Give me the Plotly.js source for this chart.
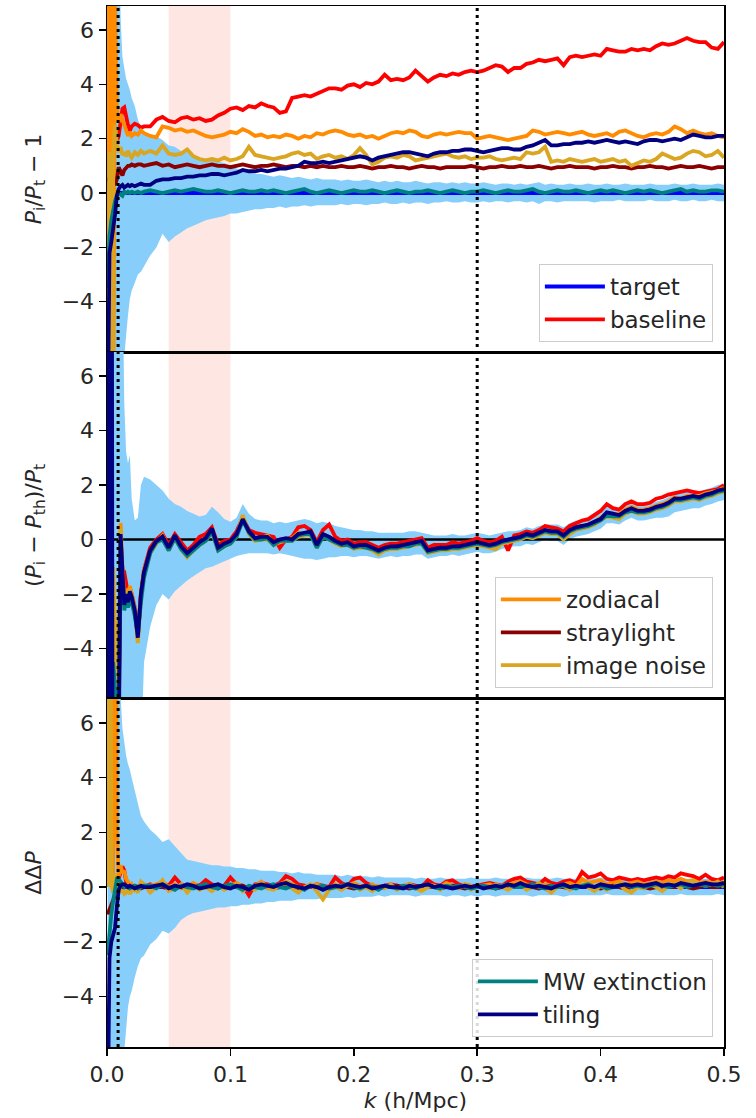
<!DOCTYPE html>
<html>
<head>
<meta charset="utf-8">
<script src="https://cdn.plot.ly/plotly-3.0.1.min.js"></script>
<style>html,body{margin:0;padding:0;background:#fff}#chart{width:756px;height:1118px}</style>
</head>
<body>
<div id="chart"></div>
<script>
// k grid (h/Mpc)
const K = [0.0005,0.002,0.0035,0.005,0.0065,0.008,0.0095,0.011,0.0125,0.014,0.0155,0.017,0.0185,0.02,0.0225,0.025,0.0275,0.03,
0.035,0.04,0.045,0.05,0.055,0.06,0.065,0.07,0.075,0.08,
0.085,0.09,0.095,0.1,0.105,0.11,0.115,0.12,0.125,0.13,
0.135,0.14,0.145,0.15,0.155,0.16,0.165,0.17,0.175,0.18,
0.185,0.19,0.195,0.2,0.205,0.21,0.215,0.22,0.225,0.23,
0.235,0.24,0.245,0.25,0.255,0.26,0.265,0.27,0.275,0.28,
0.285,0.29,0.295,0.3,0.305,0.31,0.315,0.32,0.325,0.33,
0.335,0.34,0.345,0.35,0.355,0.36,0.365,0.37,0.375,0.38,
0.385,0.39,0.395,0.4,0.405,0.41,0.415,0.42,0.425,0.43,
0.435,0.44,0.445,0.45,0.455,0.46,0.465,0.47,0.475,0.48,
0.485,0.49,0.495,0.5];

const kTargetLine = [0.008, 0.5];
const targetZero = [0, 0];
const kZeroLine = [0, 0.5];
const zeroLine = [0, 0];

// ---------- top panel: P_i/P_t - 1 ----------
const topBaseline = [2.0,2.0,2.0,2.0,2.0,1.9,2.1,2.6,3.1,3.15,2.8,2.5,2.3,2.45,2.55,2.5,2.4,2.45,
2.45,2.7,2.8,2.65,2.6,2.75,2.8,2.7,2.75,2.65,
2.7,2.85,2.95,3.1,3.15,3.05,3.2,3.15,3.3,3.2,
3.15,2.95,3.0,3.5,3.55,3.6,3.55,3.65,3.75,3.85,
3.85,3.8,3.95,4.0,3.9,4.05,4.0,4.1,4.35,4.15,
4.2,4.15,4.25,4.5,4.3,4.1,4.25,4.35,4.3,4.4,
4.35,4.45,4.5,4.45,4.5,4.6,4.7,4.65,4.45,4.6,
4.6,4.75,4.8,4.9,4.85,4.9,4.95,4.7,5.0,5.05,
5.0,5.05,5.1,5.05,5.3,5.25,5.2,5.2,5.3,5.25,
5.3,5.25,5.4,5.5,5.45,5.5,5.6,5.7,5.6,5.55,
5.55,5.35,5.3,5.55];
const topZodiacal = [60,-30,45,-10,7,3.2,2.6,2.9,2.7,2.5,2.2,2.1,2.25,2.1,2.2,2.15,2.3,2.2,
2.1,2.05,2.45,2.4,2.3,2.35,2.25,2.3,2.2,2.1,
2.05,2.1,2.15,2.25,2.2,2.35,2.25,2.1,2.15,2.05,
2.1,2.05,2.15,2.1,2.0,2.1,2.05,2.2,2.15,2.25,
2.3,2.25,2.15,2.1,2.15,2.05,2.1,2.0,2.1,2.2,
2.25,2.2,2.3,2.25,2.1,2.05,2.15,2.2,2.15,2.2,
2.25,2.2,2.2,2.0,2.05,2.1,2.05,2.0,1.95,2.0,
2.05,2.1,2.3,2.25,2.15,2.2,2.25,2.2,2.15,2.2,
2.25,2.15,2.1,2.15,2.2,2.1,2.25,2.3,2.2,2.1,
2.05,2.15,2.2,2.15,2.25,2.45,2.35,2.2,2.3,2.2,
2.15,2.2,2.1,2.05];
const topStraylight = [0.5,0.5,0.5,0.4,0.3,0.5,0.95,0.8,0.65,0.85,0.95,1.0,1.0,1.05,1.0,1.05,1.05,1.0,
1.05,1.1,1.0,1.05,0.95,1.0,1.05,1.0,0.95,1.0,
1.05,1.0,1.0,0.95,1.0,1.05,1.0,0.95,1.0,1.0,
1.05,1.0,0.95,1.0,1.0,0.95,1.0,0.95,1.0,0.95,
0.95,1.0,0.95,0.95,1.0,0.95,0.9,0.95,0.95,1.0,
0.95,0.95,0.9,0.95,1.0,0.95,0.95,0.9,0.95,0.95,
0.95,0.95,1.0,0.95,0.9,0.95,0.95,1.0,0.95,0.95,
1.0,0.95,0.95,1.0,0.95,0.9,0.95,0.95,1.0,0.95,
0.95,0.95,0.9,0.95,0.95,1.0,0.95,0.95,0.9,0.95,
0.95,1.0,0.95,0.95,0.9,0.95,1.0,0.95,0.95,1.0,
0.95,0.9,0.95,0.95];
const topImageNoise = [-40,1.5,-40,1.6,2.5,1.8,1.5,1.7,1.4,1.5,1.35,1.55,1.4,1.3,1.5,1.4,1.55,1.45,
1.55,1.45,1.75,1.45,1.4,1.45,1.6,1.35,1.25,1.2,
1.25,1.2,1.3,1.2,1.25,1.35,1.7,1.4,1.35,1.3,
1.25,1.3,1.35,1.45,1.5,1.4,1.45,1.25,1.35,1.4,
1.3,1.35,1.25,1.4,1.65,1.4,1.05,1.15,1.3,1.35,
1.3,1.4,1.35,1.2,1.25,1.3,1.35,1.4,1.45,1.35,
1.3,1.35,1.25,1.3,1.3,1.35,1.25,1.2,1.25,1.3,
1.25,1.5,1.45,1.5,1.7,1.15,1.2,1.15,1.25,1.2,
1.15,1.2,1.25,1.15,1.2,1.25,1.15,1.2,1.0,1.1,
1.2,1.15,1.25,1.45,1.35,1.25,1.3,1.45,1.55,1.5,
1.35,1.4,1.55,1.3];
const topMWExt = [-3.5,-1.6,-1.0,-0.6,-0.3,-0.1,0.0,-0.05,-0.1,0.05,0.0,0.05,0.0,0.05,0.0,0.05,0.0,0.05,
0.1,0.05,0.0,0.05,0.1,0.05,0.1,0.15,0.1,0.05,
0.05,0.1,0.05,0.0,0.05,0.1,0.05,0.05,0.1,0.05,
0.1,0.05,0.0,0.05,0.1,0.15,0.05,0.0,0.05,0.1,
0.05,0.0,0.05,0.1,0.05,0.05,0.1,0.05,0.0,0.05,
0.1,0.05,0.0,0.05,0.05,0.1,0.05,0.0,0.05,0.1,
0.05,0.0,0.05,0.05,0.1,0.05,0.0,0.05,0.1,0.05,
0.05,0.1,0.15,0.05,0.0,0.05,0.1,0.05,0.05,0.1,
0.05,0.0,0.05,0.1,0.05,0.1,0.05,0.0,0.05,0.1,
0.05,0.1,0.05,0.0,0.05,0.1,0.15,0.05,0.1,0.05,
0.05,0.1,0.1,0.05];
const topTiling = [-9,-2.2,-1.8,-1.4,-0.8,-0.1,0.15,0.25,0.3,0.2,0.25,0.3,0.25,0.3,0.25,0.3,0.35,0.3,
0.3,0.45,0.5,0.5,0.55,0.55,0.6,0.6,0.65,0.65,
0.7,0.7,0.65,0.7,0.75,0.85,0.8,0.8,0.85,0.8,
0.85,0.9,0.9,0.95,1.0,1.15,1.1,1.1,1.15,1.1,
1.15,1.2,1.25,1.3,1.35,1.3,1.2,1.3,1.35,1.4,
1.45,1.5,1.5,1.45,1.4,1.35,1.45,1.5,1.5,1.55,
1.55,1.6,1.6,1.55,1.5,1.55,1.6,1.65,1.65,1.6,
1.6,1.7,1.75,1.85,1.95,1.75,1.75,1.8,1.8,1.85,
1.85,1.9,1.85,1.9,1.95,1.9,1.85,1.9,1.85,1.8,
1.9,1.95,1.95,1.9,1.95,2.0,1.95,2.05,2.15,2.1,
2.05,2.05,2.1,2.1];
const topBandHi = [30,30,30,30,30,25,12,6.5,5.0,4.6,4.2,4.0,3.8,3.5,3.2,2.7,2.4,2.2,
2.05,2.1,1.95,1.75,1.7,1.55,1.5,1.4,1.3,1.25,
1.2,1.15,1.1,1.0,0.9,0.8,0.75,0.7,0.7,0.65,
0.6,0.65,0.6,0.55,0.6,0.55,0.5,0.55,0.5,0.5,
0.5,0.45,0.5,0.45,0.45,0.5,0.45,0.4,0.45,0.4,
0.45,0.4,0.4,0.45,0.4,0.35,0.4,0.4,0.35,0.4,
0.35,0.4,0.35,0.35,0.4,0.35,0.3,0.35,0.35,0.3,
0.35,0.3,0.35,0.4,0.3,0.35,0.3,0.3,0.35,0.3,
0.3,0.35,0.3,0.3,0.35,0.3,0.3,0.35,0.3,0.3,
0.3,0.35,0.3,0.3,0.3,0.35,0.3,0.3,0.35,0.3,
0.3,0.3,0.35,0.3];
const topBandLo = [-30,-30,-30,-30,-30,-30,-25,-15,-8,-6,-5.1,-4.5,-3.9,-3.6,-3.3,-3.0,-2.9,-2.7,
-2.3,-2.0,-1.5,-1.8,-1.6,-1.45,-1.3,-1.2,-1.1,-1.0,
-0.95,-0.9,-0.85,-0.75,-0.75,-0.7,-0.65,-0.6,-0.6,-0.55,
-0.55,-0.5,-0.55,-0.5,-0.5,-0.45,-0.5,-0.45,-0.45,-0.45,
-0.45,-0.4,-0.45,-0.4,-0.4,-0.45,-0.4,-0.4,-0.35,-0.4,
-0.4,-0.35,-0.4,-0.35,-0.35,-0.4,-0.35,-0.35,-0.3,-0.35,
-0.35,-0.3,-0.35,-0.35,-0.3,-0.35,-0.3,-0.3,-0.35,-0.3,
-0.3,-0.35,-0.3,-0.4,-0.3,-0.3,-0.35,-0.3,-0.3,-0.3,
-0.3,-0.3,-0.35,-0.3,-0.3,-0.3,-0.25,-0.3,-0.3,-0.3,
-0.3,-0.25,-0.3,-0.3,-0.3,-0.25,-0.3,-0.3,-0.25,-0.3,
-0.3,-0.25,-0.3,-0.3];

// ---------- middle panel: (P_i - P_th)/P_t ----------
const midBaseline = [-9,3,-9,-4,-5,-8,-6,0.1,-1.2,-1.2,-1.6,-2.0,-1.8,-2.0,-2.5,-3.5,-2.0,-1.1,
-0.3,0.0,0.2,-0.2,0.2,-0.1,-0.4,-0.2,0.1,0.2,
0.45,-0.2,-0.05,0.0,0.3,0.8,0.35,0.25,0.2,0.15,
0.1,-0.3,0.0,0.1,0.45,0.5,0.35,-0.1,0.35,0.55,
0.1,-0.05,0.0,-0.15,-0.1,-0.1,-0.2,-0.3,-0.2,-0.15,
-0.15,-0.1,-0.05,0.0,0.05,-0.3,-0.2,-0.2,-0.2,-0.1,
-0.15,-0.1,-0.05,0.05,-0.05,-0.1,-0.05,0.1,-0.4,0.15,
0.2,0.3,0.25,0.35,0.5,0.45,0.4,0.3,0.5,0.6,
0.7,0.75,0.9,1.05,1.3,1.15,1.1,1.3,1.4,1.3,
1.3,1.35,1.5,1.55,1.65,1.7,1.75,1.8,1.75,1.7,
1.75,1.8,1.85,2.0];
const midZodiacal = [0.5,-8,0.6,-8,-3,-6,-4,0.6,-1.0,-2.2,-1.8,-2.1,-1.7,-2.0,-2.5,-3.7,-1.9,-1.1,
-0.45,-0.1,0.15,-0.35,0.1,-0.3,-0.55,-0.35,-0.15,0.0,
0.35,-0.35,-0.2,-0.1,0.15,0.85,0.25,0.0,0.05,0.15,
-0.15,-0.05,0.0,0.05,0.25,0.2,0.25,-0.25,0.15,0.05,
-0.1,-0.2,-0.15,-0.3,-0.25,-0.25,-0.35,-0.45,-0.35,-0.3,
-0.3,-0.25,-0.2,-0.15,-0.1,-0.45,-0.4,-0.35,-0.35,-0.3,
-0.3,-0.25,-0.2,-0.15,-0.2,-0.25,-0.2,-0.1,-0.05,0.0,
0.05,0.15,0.1,0.2,0.3,0.25,0.25,0.1,0.3,0.4,
0.5,0.55,0.65,0.8,0.95,0.9,0.95,1.1,1.2,1.1,
1.1,1.15,1.25,1.3,1.4,1.55,1.5,1.6,1.6,1.6,
1.7,1.75,1.8,1.9];
const midStraylight = [-9,5,-9,-6,-6,-8,-7,0.15,-1.3,-2.3,-2.0,-2.3,-1.9,-2.1,-2.6,-3.6,-2.0,-1.2,
-0.4,-0.1,0.1,-0.3,0.1,-0.25,-0.5,-0.3,-0.15,0.05,
0.4,-0.3,-0.15,-0.1,0.2,0.75,0.3,0.05,0.1,0.05,
-0.1,0.0,0.0,0.0,0.2,0.2,0.3,-0.2,0.2,0.1,
-0.05,-0.15,-0.15,-0.25,-0.2,-0.25,-0.3,-0.4,-0.3,-0.3,
-0.25,-0.2,-0.2,-0.1,-0.1,-0.4,-0.35,-0.3,-0.35,-0.25,
-0.25,-0.25,-0.15,-0.1,-0.15,-0.25,-0.15,-0.1,0.0,0.0,
0.1,0.15,0.15,0.25,0.3,0.3,0.25,0.15,0.3,0.45,
0.5,0.5,0.65,0.75,0.95,0.95,0.85,1.05,1.1,1.05,
1.05,1.1,1.15,1.25,1.3,1.5,1.45,1.55,1.55,1.55,
1.6,1.7,1.75,1.85];
const midImageNoise = [-8,0.5,-8,-1.0,-3.5,-7,-5,0.4,-1.2,-2.3,-1.9,-2.2,-1.8,-2.1,-2.6,-3.8,-2.1,-1.3,
-0.5,-0.15,0.05,-0.4,0.05,-0.35,-0.65,-0.4,-0.2,-0.05,
0.3,-0.4,-0.25,-0.15,0.1,0.9,0.2,-0.05,0.0,0.0,
-0.2,-0.1,-0.05,-0.05,0.1,0.15,0.2,-0.3,0.1,0.0,
-0.15,-0.25,-0.2,-0.35,-0.3,-0.3,-0.4,-0.55,-0.4,-0.35,
-0.35,-0.3,-0.25,-0.2,-0.15,-0.5,-0.45,-0.4,-0.4,-0.35,
-0.35,-0.3,-0.25,-0.2,-0.25,-0.3,-0.35,-0.15,-0.1,-0.05,
0.0,0.1,0.05,0.15,0.25,0.2,0.2,0.0,0.2,0.35,
0.4,0.45,0.55,0.7,0.85,0.8,0.75,0.95,1.05,0.95,
0.95,1.0,1.1,1.15,1.25,1.4,1.4,1.45,1.5,1.45,
1.55,1.6,1.7,1.75];
const midMWExt = [-9,-4,-5,-4.5,-5.5,-8,-6,0.0,-1.5,-2.6,-2.2,-2.5,-2.1,-2.3,-2.8,-3.5,-2.3,-1.4,
-0.5,-0.1,0.0,-0.4,0.05,-0.35,-0.6,-0.4,-0.2,-0.05,
0.3,-0.4,-0.25,-0.15,0.1,0.7,0.25,0.0,0.0,0.05,
-0.2,-0.05,-0.05,-0.05,0.15,0.2,0.2,-0.3,0.1,0.0,
-0.1,-0.2,-0.2,-0.3,-0.25,-0.3,-0.35,-0.45,-0.35,-0.3,
-0.3,-0.25,-0.25,-0.15,-0.15,-0.45,-0.4,-0.35,-0.35,-0.3,
-0.3,-0.25,-0.2,-0.15,-0.2,-0.25,-0.2,-0.1,-0.05,0.0,
0.05,0.15,0.1,0.2,0.3,0.25,0.25,0.1,0.3,0.4,
0.45,0.5,0.6,0.7,0.9,0.85,0.85,1.0,1.05,1.0,
1.0,1.05,1.15,1.2,1.3,1.45,1.45,1.5,1.55,1.5,
1.6,1.65,1.75,1.8];
const midTiling = [30,-30,30,-30,-10,-9,-8,0.2,-1.3,-2.4,-2.0,-2.3,-1.9,-2.1,-2.6,-3.6,-2.0,-1.2,
-0.4,-0.05,0.1,-0.3,0.15,-0.25,-0.5,-0.3,-0.1,0.05,
0.4,-0.3,-0.15,-0.05,0.2,0.75,0.3,0.05,0.1,0.1,
-0.1,0.0,0.05,0.0,0.2,0.25,0.3,-0.2,0.2,0.1,
-0.05,-0.15,-0.1,-0.25,-0.2,-0.2,-0.3,-0.4,-0.3,-0.25,
-0.25,-0.2,-0.15,-0.1,-0.05,-0.4,-0.35,-0.3,-0.3,-0.25,
-0.25,-0.2,-0.15,-0.1,-0.15,-0.2,-0.15,-0.05,0.0,0.05,
0.1,0.2,0.15,0.25,0.35,0.3,0.3,0.15,0.35,0.45,
0.5,0.55,0.65,0.75,1.0,0.95,0.9,1.05,1.15,1.05,
1.05,1.1,1.2,1.25,1.35,1.5,1.5,1.55,1.6,1.55,
1.65,1.7,1.8,1.85];
const midBandHi = [30,30,30,30,30,30,30,20,10,5,3.2,2.8,3.1,1.5,0.7,0.8,2.0,2.3,
2.2,2.0,1.8,1.5,1.3,1.2,1.05,0.95,0.85,0.9,
1.2,1.0,0.75,0.65,0.8,1.3,0.95,0.75,0.7,0.7,
0.6,0.65,0.6,0.65,0.7,0.75,0.7,0.6,0.65,0.6,
0.5,0.45,0.4,0.35,0.35,0.3,0.3,0.25,0.25,0.25,
0.25,0.25,0.3,0.3,0.25,0.2,0.15,0.15,0.15,0.2,
0.15,0.15,0.2,0.25,0.2,0.15,0.2,0.25,0.3,0.3,
0.35,0.45,0.4,0.5,0.55,0.55,0.55,0.45,0.6,0.7,
0.7,0.8,0.85,0.95,1.2,1.15,1.1,1.25,1.35,1.25,
1.25,1.3,1.4,1.45,1.55,1.7,1.7,1.75,1.8,1.75,
1.85,1.9,2.0,2.05];
const midBandLo = [-30,-30,-30,-30,-30,-30,-30,-30,-30,-30,-30,-30,-30,-30,-30,-30,-8,-4.5,
-3.2,-2.4,-2.0,-2.2,-1.9,-1.7,-1.5,-1.35,-1.2,-1.05,
-1.0,-0.9,-0.8,-0.7,-0.6,-0.55,-0.5,-0.5,-0.5,-0.5,
-0.55,-0.5,-0.55,-0.6,-0.65,-0.7,-0.7,-0.75,-0.7,-0.65,
-0.65,-0.6,-0.6,-0.65,-0.6,-0.6,-0.65,-0.7,-0.65,-0.6,
-0.65,-0.6,-0.6,-0.55,-0.55,-0.7,-0.65,-0.6,-0.6,-0.55,
-0.6,-0.55,-0.5,-0.45,-0.5,-0.5,-0.45,-0.35,-0.3,-0.25,
-0.25,-0.15,-0.2,-0.1,0.0,-0.05,-0.05,-0.2,0.0,0.1,
0.15,0.2,0.3,0.4,0.6,0.6,0.55,0.7,0.8,0.7,
0.7,0.75,0.8,0.8,0.85,1.0,1.05,1.1,1.15,1.15,
1.25,1.3,1.4,1.45];

// ---------- bottom panel: ΔΔP ----------
const botBaseline = [0.3,0.3,0.3,0.3,0.3,0.2,0.3,0.55,0.75,0.6,0.2,0.05,-0.15,-0.1,0.0,-0.1,0.05,0.0,
0.1,0.0,0.15,0.05,0.35,0.1,0.0,0.1,0.05,0.25,
0.1,0.0,0.05,0.35,0.1,0.05,-0.3,0.1,0.15,0.1,
0.05,0.15,0.4,0.3,0.1,0.05,0.0,0.1,0.05,0.0,
0.35,0.15,0.05,0.3,0.35,0.15,0.05,0.0,0.05,0.1,
0.05,0.0,0.1,0.05,0.0,0.25,0.1,0.05,0.2,0.25,
0.1,0.05,0.0,0.05,0.1,0.15,0.1,0.05,0.2,0.3,
0.35,0.2,0.15,0.1,0.3,0.15,0.1,0.2,0.25,0.15,
0.55,0.35,0.4,0.5,0.3,0.25,0.35,0.3,0.25,0.3,
0.25,0.3,0.35,0.3,0.4,0.35,0.5,0.45,0.4,0.3,
0.45,0.3,0.25,0.35];
const botZodiacal = [30,0.2,30,0.3,20,2,0.4,0.8,0.5,0.6,0.3,0.2,0.0,0.1,-0.1,0.0,0.15,0.05,
0.05,0.1,0.2,0.0,0.1,-0.05,0.05,0.15,0.0,0.05,
-0.05,0.1,0.0,0.05,0.15,0.0,-0.1,0.05,0.2,0.0,
0.0,0.1,0.2,0.1,0.0,-0.05,0.05,0.1,0.0,-0.05,
0.1,0.0,0.05,0.15,0.05,0.0,0.1,-0.05,0.0,0.05,
0.0,0.05,0.1,0.0,-0.05,0.1,0.05,0.0,0.15,0.05,
0.0,0.1,0.05,0.0,0.05,0.1,0.0,0.05,0.1,0.15,
0.2,0.1,0.05,0.0,0.1,0.05,0.0,0.1,0.15,0.05,
0.3,0.15,0.2,0.25,0.1,0.15,0.2,0.1,0.15,0.2,
0.1,0.15,0.2,0.15,0.25,0.2,0.3,0.2,0.25,0.15,
0.2,0.15,0.1,0.2];
const botStraylight = [-1.0,-0.8,-0.6,-0.5,-0.3,-0.2,0.0,-0.1,-0.05,0.0,0.05,0.0,-0.05,0.0,0.05,0.0,-0.05,0.0,
0.0,0.05,0.0,-0.05,0.05,0.0,-0.05,0.0,0.05,0.0,
0.0,-0.05,0.05,0.0,0.0,0.05,-0.05,0.0,0.05,0.0,
-0.05,0.0,0.05,0.0,-0.05,0.0,0.05,0.0,0.0,-0.05,
0.0,0.05,0.0,-0.05,0.0,0.05,0.0,-0.05,0.0,0.0,
0.05,0.0,-0.05,0.0,0.05,0.0,0.0,-0.05,0.0,0.05,
0.0,-0.05,0.0,0.05,0.0,0.0,-0.05,0.0,0.05,0.0,
0.0,0.05,0.0,-0.05,0.0,0.05,0.0,0.0,-0.05,0.0,
0.05,0.0,0.0,-0.05,0.0,0.05,0.0,-0.05,0.0,0.05,
0.0,-0.05,0.0,0.05,0.0,0.0,0.05,0.0,-0.05,0.0,
0.05,0.0,0.0,0.05];
const botImageNoise = [0.0,30,0.1,-0.2,0.5,-0.3,0.2,-0.2,-0.1,-0.25,-0.2,-0.1,-0.25,-0.15,-0.05,-0.2,0.2,0.1,
-0.2,0.0,0.25,-0.15,-0.05,0.1,-0.2,0.05,-0.1,0.0,
-0.15,0.05,-0.1,0.0,0.1,-0.15,0.0,-0.1,0.1,-0.05,
-0.1,0.05,0.15,-0.05,-0.2,0.0,0.1,-0.15,-0.45,-0.1,
0.0,-0.1,0.05,0.1,-0.1,0.0,-0.15,0.05,-0.05,0.1,
-0.1,0.0,0.1,-0.05,-0.15,0.0,0.05,-0.1,0.1,0.0,
-0.05,0.1,-0.1,0.0,0.05,-0.05,0.1,0.0,-0.1,0.05,
0.1,-0.1,0.0,0.15,-0.05,-0.2,0.0,0.05,-0.1,0.0,
0.1,0.0,-0.15,0.05,-0.1,0.0,0.1,-0.1,-0.2,0.0,
-0.05,0.1,0.0,-0.15,0.05,0.1,-0.05,0.15,0.25,0.1,
0.05,0.1,0.2,0.0];
const botMWExt = [-2.5,-1.5,-1.0,-0.5,-0.1,0.3,0.3,0.2,0.1,0.0,0.05,0.0,-0.05,0.0,0.05,-0.05,0.0,0.05,
0.05,-0.05,0.1,0.0,-0.1,0.05,0.0,-0.05,0.05,0.1,
0.0,-0.05,0.05,0.1,0.0,-0.1,0.05,0.0,-0.05,0.05,
0.1,0.0,-0.05,0.05,0.0,-0.1,0.05,0.0,0.05,-0.05,
0.0,0.05,0.1,0.0,-0.05,0.05,0.0,-0.1,0.05,0.0,
-0.05,0.05,0.0,-0.05,0.05,0.1,0.0,-0.05,0.05,0.0,
0.05,0.0,-0.05,0.0,0.05,0.0,-0.05,0.05,0.1,0.0,
0.0,0.05,0.1,0.0,-0.05,0.05,0.0,0.05,0.0,-0.05,
0.05,0.1,0.0,0.05,-0.05,0.0,0.05,0.1,0.0,0.05,
0.0,0.05,0.1,0.05,0.0,0.05,0.1,0.0,0.05,0.1,
0.05,0.1,0.05,0.1];
const botTiling = [-9,-2.6,-2.0,-1.8,-1.5,-0.7,-0.1,0.05,0.1,0.1,0.05,0.0,0.05,0.0,-0.05,0.0,0.05,0.0,
0.0,0.05,0.1,-0.05,0.05,0.0,0.1,0.05,-0.05,0.0,
0.05,0.1,0.0,-0.05,0.05,0.0,-0.1,0.05,0.1,0.05,
0.0,0.1,0.15,0.05,0.0,-0.05,0.05,0.0,-0.1,0.0,
0.05,0.0,0.1,0.05,0.0,0.05,-0.05,0.0,0.05,0.0,
0.0,-0.05,0.05,0.0,0.05,0.1,0.0,0.05,0.0,-0.05,
0.0,0.05,0.0,0.05,-0.05,0.0,0.05,0.0,0.1,0.05,
0.15,0.05,0.0,0.05,0.0,-0.05,0.05,0.1,0.0,0.05,
0.0,0.05,0.0,0.1,0.05,0.0,0.05,0.1,0.05,0.1,
0.05,0.1,0.15,0.05,0.1,0.05,0.15,0.1,0.05,0.1,
0.15,0.1,0.1,0.15];
const botBandHi = [30,30,30,30,30,30,15,7,5.8,5.2,4.8,4.5,4.3,4.0,3.5,3.0,2.6,2.4,
2.1,1.9,1.65,1.75,1.5,1.25,1.0,0.95,0.9,0.85,
0.8,0.8,0.75,0.75,0.7,0.7,0.65,0.65,0.6,0.6,
0.6,0.55,0.55,0.5,0.55,0.5,0.5,0.45,0.45,0.45,
0.45,0.4,0.45,0.4,0.4,0.4,0.35,0.4,0.35,0.35,
0.35,0.35,0.35,0.3,0.35,0.3,0.3,0.35,0.3,0.3,
0.3,0.3,0.35,0.3,0.3,0.3,0.35,0.3,0.3,0.3,
0.3,0.35,0.3,0.3,0.3,0.3,0.35,0.3,0.3,0.3,
0.3,0.3,0.3,0.35,0.3,0.3,0.3,0.3,0.3,0.35,
0.3,0.3,0.3,0.3,0.35,0.3,0.3,0.3,0.3,0.3,
0.3,0.35,0.3,0.3];
const botBandLo = [-30,-30,-30,-30,-30,-30,-30,-15,-8,-6,-5,-4.4,-4.0,-3.8,-3.3,-2.9,-2.6,-2.5,
-2.1,-1.9,-1.6,-1.7,-1.5,-1.2,-1.05,-0.95,-0.9,-0.85,
-0.8,-0.75,-0.75,-0.7,-0.7,-0.65,-0.65,-0.6,-0.6,-0.55,
-0.55,-0.5,-0.5,-0.5,-0.45,-0.45,-0.45,-0.45,-0.4,-0.4,
-0.4,-0.4,-0.35,-0.4,-0.35,-0.35,-0.35,-0.3,-0.35,-0.3,
-0.3,-0.3,-0.3,-0.35,-0.3,-0.3,-0.3,-0.3,-0.35,-0.3,
-0.3,-0.35,-0.3,-0.35,-0.3,-0.3,-0.35,-0.3,-0.3,-0.3,
-0.3,-0.3,-0.35,-0.3,-0.3,-0.3,-0.3,-0.35,-0.3,-0.3,
-0.3,-0.3,-0.3,-0.3,-0.25,-0.3,-0.3,-0.3,-0.3,-0.3,
-0.3,-0.25,-0.3,-0.3,-0.3,-0.3,-0.25,-0.3,-0.3,-0.3,
-0.3,-0.3,-0.25,-0.3];

// ---------- styling ----------
const C = {target:'#0000ff', baseline:'#ff0000', zodiacal:'#ff8c00', straylight:'#8b0000',
           noise:'#daa520', mw:'#008080', tiling:'#000080', band:'#87cefa'};
const LW = 3.8;
const FONT = 'DejaVu Sans, Arial, sans-serif';
const TXT = '#262626';

function bandTraces(lo, hi, xa, ya) {
  return [
    {x: K, y: lo, xaxis: xa, yaxis: ya, type: 'scatter', mode: 'lines',
     line: {width: 0, color: 'rgba(0,0,0,0)'}, showlegend: false, hoverinfo: 'skip'},
    {x: K, y: hi, xaxis: xa, yaxis: ya, type: 'scatter', mode: 'lines', fill: 'tonexty',
     fillcolor: C.band, line: {width: 0, color: 'rgba(0,0,0,0)'}, showlegend: false, hoverinfo: 'skip'}
  ];
}
function lineTrace(x, y, xa, ya, name, color, legend, show) {
  const t = {x: x, y: y, xaxis: xa, yaxis: ya, type: 'scatter', mode: 'lines', name: name,
    line: {color: color, width: LW}, showlegend: !!show, hoverinfo: 'skip'};
  if (legend) t.legend = legend;
  return t;
}

const data = [];
// top
data.push(...bandTraces(topBandLo, topBandHi, 'x', 'y'));
data.push(lineTrace(kTargetLine, targetZero, 'x', 'y', 'target', C.target, 'legend', true));
data.push(lineTrace(K, topBaseline, 'x', 'y', 'baseline', C.baseline, 'legend', true));
data.push(lineTrace(K, topZodiacal, 'x', 'y', 'zodiacal', C.zodiacal, null, false));
data.push(lineTrace(K, topStraylight, 'x', 'y', 'straylight', C.straylight, null, false));
data.push(lineTrace(K, topImageNoise, 'x', 'y', 'image noise', C.noise, null, false));
data.push(lineTrace(K, topMWExt, 'x', 'y', 'MW extinction', C.mw, null, false));
data.push(lineTrace(K, topTiling, 'x', 'y', 'tiling', C.tiling, null, false));
// middle
data.push(...bandTraces(midBandLo, midBandHi, 'x2', 'y2'));
data.push({x: kZeroLine, y: zeroLine, xaxis: 'x2', yaxis: 'y2', type: 'scatter', mode: 'lines',
  line: {color: '#000000', width: 2.5}, showlegend: false, hoverinfo: 'skip'});
data.push(lineTrace(K, midBaseline, 'x2', 'y2', 'baseline', C.baseline, null, false));
data.push(lineTrace(K, midZodiacal, 'x2', 'y2', 'zodiacal', C.zodiacal, 'legend2', true));
data.push(lineTrace(K, midStraylight, 'x2', 'y2', 'straylight', C.straylight, 'legend2', true));
data.push(lineTrace(K, midImageNoise, 'x2', 'y2', 'image noise', C.noise, 'legend2', true));
data.push(lineTrace(K, midMWExt, 'x2', 'y2', 'MW extinction', C.mw, null, false));
data.push(lineTrace(K, midTiling, 'x2', 'y2', 'tiling', C.tiling, null, false));
// bottom
data.push(...bandTraces(botBandLo, botBandHi, 'x3', 'y3'));
data.push(lineTrace(kTargetLine, targetZero, 'x3', 'y3', 'target', C.target, null, false));
data.push(lineTrace(K, botBaseline, 'x3', 'y3', 'baseline', C.baseline, null, false));
data.push(lineTrace(K, botZodiacal, 'x3', 'y3', 'zodiacal', C.zodiacal, null, false));
data.push(lineTrace(K, botStraylight, 'x3', 'y3', 'straylight', C.straylight, null, false));
data.push(lineTrace(K, botImageNoise, 'x3', 'y3', 'image noise', C.noise, null, false));
data.push(lineTrace(K, botMWExt, 'x3', 'y3', 'MW extinction', C.mw, 'legend3', true));
data.push(lineTrace(K, botTiling, 'x3', 'y3', 'tiling', C.tiling, 'legend3', true));

const YR = [-5.85, 6.88];
const yTicks = [-4, -2, 0, 2, 4, 6];
function yAxis(domain, anchor, title) {
  return {domain: domain, anchor: anchor, range: YR, tickvals: yTicks, ticks: 'outside', ticklen: 7,
    tickwidth: 1.5, tickcolor: '#000', showline: true, linecolor: '#000', linewidth: 1.5, mirror: true,
    showgrid: false, zeroline: false, tickfont: {family: FONT, size: 22, color: TXT},
    title: {text: title, font: {family: FONT, size: 22, color: TXT}, standoff: 14}};
}
function xAxis(anchor, showLabels) {
  const a = {anchor: anchor, range: [0, 0.5], showline: true, linecolor: '#000', linewidth: 1.5, mirror: true,
    showgrid: false, zeroline: false, showticklabels: showLabels,
    tickfont: {family: FONT, size: 22, color: TXT}};
  if (showLabels) {
    Object.assign(a, {tickvals: [0, 0.1, 0.2, 0.3, 0.4, 0.5], tickformat: '.1f', ticks: 'outside',
      ticklen: 7, tickwidth: 1.5, tickcolor: '#000',
      title: {text: '<i>k</i> (h/Mpc)', font: {family: FONT, size: 22, color: TXT}, standoff: 6}});
  } else {
    a.ticks = '';
    a.matches = 'x3';
  }
  return a;
}
const legendBase = {xanchor: 'right', yanchor: 'bottom', x: 0.982, bgcolor: 'rgba(255,255,255,0.85)',
  bordercolor: '#cccccc', borderwidth: 1, font: {family: FONT, size: 23, color: TXT}, traceorder: 'normal',
  itemwidth: 60};

const layout = {
  width: 756, height: 1118,
  margin: {l: 107, r: 32, t: 6, b: 71},
  paper_bgcolor: '#ffffff', plot_bgcolor: '#ffffff',
  font: {family: FONT, size: 22, color: TXT},
  showlegend: true,
  xaxis: xAxis('y', false),
  xaxis2: xAxis('y2', false),
  xaxis3: xAxis('y3', true),
  yaxis: yAxis([0.6676, 1], 'x', '<i>P</i><sub>i</sub>/<i>P</i><sub>t</sub> − 1'),
  yaxis2: yAxis([0.3343, 0.6676], 'x2', '(<i>P</i><sub>i</sub> − <i>P</i><sub>th</sub>)/<i>P</i><sub>t</sub>'),
  yaxis3: yAxis([0, 0.3343], 'x3', 'ΔΔ<i>P</i>'),
  legend: Object.assign({}, legendBase, {y: 0.6772}),
  legend2: Object.assign({}, legendBase, {y: 0.3449}),
  legend3: Object.assign({}, legendBase, {y: 0.0096}),
  shapes: [
    {type: 'rect', xref: 'x3', yref: 'paper', x0: 0.05, x1: 0.1, y0: 0, y1: 1,
     fillcolor: 'rgba(250,128,114,0.2)', line: {width: 0}, layer: 'below'},
    {type: 'line', xref: 'x3', yref: 'paper', x0: 0.009, x1: 0.009, y0: 0, y1: 1,
     line: {color: '#000', width: 3, dash: '3px,4px'}, layer: 'above'},
    {type: 'line', xref: 'x3', yref: 'paper', x0: 0.3, x1: 0.3, y0: 0, y1: 1,
     line: {color: '#000', width: 3, dash: '3px,4px'}, layer: 'above'}
  ],
  hovermode: false
};

Plotly.newPlot('chart', data, layout, {staticPlot: true, displayModeBar: false});
</script>
</body>
</html>
